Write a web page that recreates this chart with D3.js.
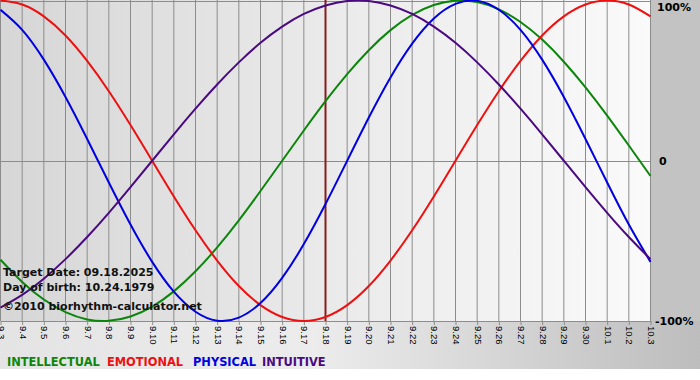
<!DOCTYPE html>
<html>
<head>
<meta charset="utf-8">
<script src="https://cdn.jsdelivr.net/npm/d3@7"></script>
<style>
  html, body { margin: 0; padding: 0; background: #fff; }
  svg { display: block; }
</style>
</head>
<body>
<svg id="chart" width="700" height="380"></svg>
<script>
// ---- data ----
const days = ["9.3","9.4","9.5","9.6","9.7","9.8","9.9","9.10","9.11","9.12","9.13","9.14","9.15","9.16","9.17","9.18","9.19","9.20","9.21","9.22","9.23","9.24","9.25","9.26","9.27","9.28","9.29","9.30","10.1","10.2","10.3"];
const intellectual = [-0.618,-0.756,-0.866,-0.945,-0.990,-0.999,-0.972,-0.910,-0.815,-0.690,-0.541,-0.372,-0.189,0.000,0.189,0.372,0.541,0.690,0.815,0.910,0.972,0.999,0.990,0.945,0.866,0.756,0.618,0.458,0.282,0.095,-0.095];
const emotional = [1.000,0.975,0.901,0.782,0.623,0.434,0.223,0.000,-0.223,-0.434,-0.623,-0.782,-0.901,-0.975,-1.000,-0.975,-0.901,-0.782,-0.623,-0.434,-0.223,0.000,0.223,0.434,0.623,0.782,0.901,0.975,1.000,0.975,0.901];
const physical = [0.942,0.817,0.631,0.398,0.136,-0.136,-0.398,-0.631,-0.817,-0.942,-0.998,-0.979,-0.888,-0.731,-0.520,-0.270,0.000,0.270,0.520,0.731,0.888,0.979,0.998,0.942,0.817,0.631,0.398,0.136,-0.136,-0.398,-0.631];
const intuitive = [-0.916,-0.837,-0.736,-0.614,-0.476,-0.325,-0.165,0.000,0.165,0.325,0.476,0.614,0.736,0.837,0.916,0.969,0.997,0.997,0.969,0.916,0.837,0.736,0.614,0.476,0.325,0.165,0.000,-0.165,-0.325,-0.476,-0.614];
const yTickValues = [1, 0, -1];
const yTickLabels = ["100%", "0", "-100%"];
const seriesNames = ["INTELLECTUAL", "EMOTIONAL", "PHYSICAL", "INTUITIVE"];
const targetDay = "9.18";
const infoLines = ["Target Date: 09.18.2025", "Day of birth: 10.24.1979", "\u00A92010 biorhythm-calculator.net"];

// ---- styles ----
const colors = { INTELLECTUAL: "#0b860b", EMOTIONAL: "#ee1010", PHYSICAL: "#0000e0", INTUITIVE: "#4a0a80" };
const series = [
  { name: "INTELLECTUAL", values: intellectual },
  { name: "EMOTIONAL", values: emotional },
  { name: "PHYSICAL", values: physical },
  { name: "INTUITIVE", values: intuitive }
];

const svg = d3.select("#chart");
const W = 700, H = 380;
const plotL = 0.5, plotR = 650.5, plotT = 0.5, plotB = 321;

const x = d3.scalePoint().domain(days).range([plotL, plotR]).padding(0);
const y = d3.scaleLinear().domain([-1, 1]).range([plotB, plotT]);

const defs = svg.append("defs");
const gPlot = defs.append("linearGradient").attr("id", "plotGrad").attr("x1", 0).attr("x2", 1).attr("y1", 0).attr("y2", 0);
gPlot.append("stop").attr("offset", 0).attr("stop-color", "#d6d6d6");
gPlot.append("stop").attr("offset", 0.5).attr("stop-color", "#eaeaea");
gPlot.append("stop").attr("offset", 1).attr("stop-color", "#fafafa");
const gBot = defs.append("linearGradient").attr("id", "botGrad").attr("x1", 0).attr("x2", 1).attr("y1", 0).attr("y2", 0);
gBot.append("stop").attr("offset", 0).attr("stop-color", "#e4e4e4");
gBot.append("stop").attr("offset", 0.45).attr("stop-color", "#ececec");
gBot.append("stop").attr("offset", 1).attr("stop-color", "#bdbdbd");

// margins
svg.append("rect").attr("x", 0).attr("y", 0).attr("width", W).attr("height", H).attr("fill", "#ffffff");
svg.append("rect").attr("x", 0).attr("y", plotB).attr("width", W).attr("height", 369 - plotB).attr("fill", "url(#botGrad)");
svg.append("rect").attr("x", plotR).attr("y", 0).attr("width", W - plotR).attr("height", plotB).attr("fill", "#c3c3c3");
// plot area
svg.append("rect").attr("x", 0).attr("y", 0).attr("width", plotR).attr("height", plotB).attr("fill", "url(#plotGrad)");

// vertical grid
svg.append("g").selectAll("line").data(days).join("line")
  .attr("x1", d => x(d)).attr("x2", d => x(d))
  .attr("y1", 0).attr("y2", plotB)
  .attr("stroke", "#8c8c8c").attr("stroke-width", 1);

// horizontal lines (top, zero)
svg.append("g").selectAll("line").data(yTickValues.slice(0, 2)).join("line")
  .attr("x1", 0).attr("x2", plotR)
  .attr("y1", d => Math.round(y(d)) + 0.5).attr("y2", d => Math.round(y(d)) + 0.5)
  .attr("stroke", "#8c8c8c").attr("stroke-width", 1);

// x axis
const xAxis = d3.axisBottom(x).tickSize(4).tickSizeOuter(0).tickPadding(2);
const gx = svg.append("g").attr("transform", `translate(0,${plotB})`).call(xAxis);
gx.select(".domain").attr("stroke", "#8c8c8c");
gx.selectAll(".tick line").attr("stroke", "#8c8c8c");
gx.selectAll(".tick text")
  .attr("font-family", "'Liberation Sans', Arial, sans-serif")
  .attr("font-size", "9.5px")
  .attr("fill", "#000")
  .attr("text-anchor", "start")
  .attr("transform", "rotate(90)")
  .attr("x", 5).attr("y", 0).attr("dy", "0.33em");

// y labels on right
svg.append("g").selectAll("text").data(yTickValues).join("text")
  .attr("x", (d, i) => i === 1 ? 659 : (i === 0 ? 657 : 655))
  .attr("y", d => y(d))
  .attr("dy", (d, i) => i === 0 ? "0.95em" : "0.38em")
  .attr("font-family", "'DejaVu Sans', Verdana, sans-serif")
  .attr("font-weight", "bold").attr("font-size", "11px").attr("fill", "#000")
  .text((d, i) => yTickLabels[i]);

// target line
svg.append("line")
  .attr("x1", x(targetDay)).attr("x2", x(targetDay))
  .attr("y1", 0).attr("y2", plotB)
  .attr("stroke", "#8a1c1c").attr("stroke-width", 2);

// curves
const line = d3.line().x((d, i) => x(days[i])).y(d => y(d)).curve(d3.curveNatural);
svg.append("g").selectAll("path").data(series).join("path")
  .attr("d", s => line(s.values))
  .attr("fill", "none")
  .attr("stroke", s => colors[s.name])
  .attr("stroke-width", 2);

// info text
svg.append("g").selectAll("text").data(infoLines).join("text")
  .attr("x", 3)
  .attr("y", (d, i) => [276, 291, 310][i])
  .attr("font-family", "'DejaVu Sans', Verdana, sans-serif")
  .attr("font-weight", "bold").attr("font-size", "11px").attr("fill", "#111")
  .text(d => d);

// legend
const legendX = [7, 107, 193, 262];
svg.append("g").selectAll("text").data(seriesNames).join("text")
  .attr("x", (d, i) => legendX[i]).attr("y", 366)
  .attr("font-family", "'DejaVu Sans', Verdana, sans-serif")
  .attr("font-weight", "bold").attr("font-size", "11.4px")
  .attr("fill", d => colors[d])
  .text(d => d);
</script>
</body>
</html>
